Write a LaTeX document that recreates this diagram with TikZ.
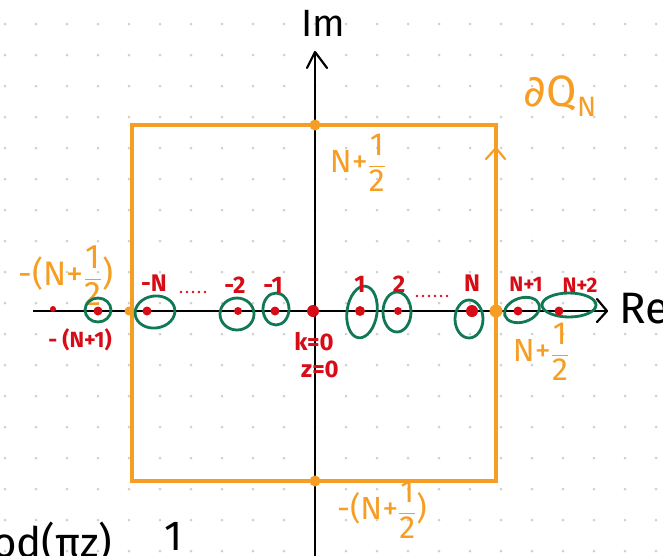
\documentclass[tikz,border=0pt]{standalone}
\usepackage{fontspec}
\usepackage{amsmath}
\setmainfont{Fira Sans}
\newfontfamily\djv{DejaVu Sans}
\usetikzlibrary{arrows.meta}
\definecolor{ora}{RGB}{245,158,35}
\definecolor{rd}{RGB}{214,12,22}
\definecolor{gr}{RGB}{16,120,82}
\definecolor{gridc}{RGB}{208,208,208}
\newcommand{\hf}{$\dfrac{\text{1}}{\text{2}}$}
\begin{document}
\begin{tikzpicture}[x=1pt,y=-1pt,
  rdot/.style={circle,fill=rd,inner sep=0pt,minimum size=#1},
  rdot/.default=9pt,
  odot/.style={circle,fill=ora,inner sep=0pt,minimum size=11pt},
  gring/.style={draw=gr,line width=2.8pt},
  rlab/.style={text=rd,inner sep=0pt,font=\fontsize{24}{24}\selectfont\bfseries},
  olab/.style={text=ora,inner sep=0pt,font=\fontsize{32}{34}\selectfont},
  blab/.style={inner sep=0pt,font=\fontsize{38}{38}\selectfont},
  axis/.style={line width=1.8pt,black},
  barb/.style={line width=2.2pt,line cap=round,line join=round}]
\useasboundingbox (0,0) rectangle (663,555);
\begin{scope}
\clip (0,0) rectangle (663,555);
% dot grid
\foreach \i in {0,...,21}{\foreach \j in {0,...,17}{
  \fill[gridc] ({5+31*\i},{24+31*\j}) circle (1.5);}}
% axes
\coordinate (xs) at (33,311);
\coordinate (xe) at (607,311);
\coordinate (ys) at (315,560);
\coordinate (ye) at (315,52);
\draw[axis] (xs) -- (xe);
\draw[axis] (ys) -- (ye);
\draw[barb] (597,299) -- (xe) -- (597,322);
\draw[barb] (307,68) -- (ye) -- (327,68);
\node[blab] (im) at (323,23) {Im};
\node[blab,font=\fontsize{44}{44}\selectfont,anchor=west] (re) at (619,309) {Re};
% contour
\draw[ora,line width=3.4pt] (132,125) rectangle (496,481);
\draw[ora,line width=2.2pt,line cap=round,line join=round] (486,159) -- (496,148) -- (505,159);
\node[odot] (ot) at (315,125) {};
\node[odot] (ob) at (315,481) {};
\node[odot,minimum size=9pt] (ol) at (129,311) {};
\node[odot,minimum size=13pt] (or) at (496,311) {};
\node[olab,font=\fontsize{44}{44}\selectfont] (dq) at (560,96) {{\djv ∂}Q\raisebox{-10pt}{\fontsize{28}{28}\selectfont N}};
\node[olab] (lt) at (358,163) {N+\hf};
\node[olab] (lb) at (382,510) {-(N+\hf)};
\node[olab] (lr) at (541,352) {N+\hf};
\node[olab,font=\fontsize{34}{36}\selectfont] (ll) at (66,276) {-(N+\hf)};
% green circles
\draw[gring] (98,310) ellipse [x radius=13, y radius=12];
\draw[gring,rotate around={8:(155,312)}] (155,312) ellipse [x radius=20, y radius=16];
\draw[gring] (237,314) ellipse [x radius=17, y radius=16];
\draw[gring] (276,309) ellipse [x radius=13, y radius=16];
\draw[gring,rotate around={-8:(362,312)}] (362,312) ellipse [x radius=15, y radius=26];
\draw[gring] (397,312) ellipse [x radius=14, y radius=20];
\draw[gring] (469,319) ellipse [x radius=14, y radius=19];
\draw[gring,rotate around={18:(522,310)}] (522,310) ellipse [x radius=18, y radius=12];
\draw[gring] (569,305) ellipse [x radius=27, y radius=12];
% red poles
\node[rdot=6pt] (p0) at (53,309) {};
\node[rdot] (pm) at (98,311) {};
\node[rdot] (pn) at (147,311) {};
\node[rdot=8pt] (p2) at (238,311) {};
\node[rdot] (p1) at (275,311) {};
\node[rdot=12pt] (z0) at (313,311) {};
\node[rdot=10pt] (q1) at (360,311) {};
\node[rdot=8pt] (q2) at (398,311) {};
\node[rdot=12pt] (qn) at (472,311) {};
\node[rdot] (qn1) at (518,311) {};
\node[rdot] (qn2) at (559,311) {};
% red labels
\node[rlab] (lmN) at (154,283) {-N};
\node[rlab] (lm2) at (235,285) {-2};
\node[rlab] (lm1) at (273,285) {-1};
\node[rlab,font=\fontsize{22}{22}\selectfont\bfseries] (lmN1) at (80,340) {- (N+1)};
\node[rlab] (lk) at (314,342) {k=0};
\node[rlab] (lz) at (320,369) {z=0};
\node[rlab] (l1) at (360,284) {1};
\node[rlab] (l2) at (399,284) {2};
\node[rlab] (lN) at (472,283) {N};
\node[rlab,font=\fontsize{21}{21}\selectfont\bfseries] (lN1) at (526,284) {N+1};
\node[rlab,font=\fontsize{21}{21}\selectfont\bfseries] (lN2) at (580,285) {N+2};
\foreach \x in {181,187,193,199,205}{\fill[rd] (\x,292) circle (1.4);}
\foreach \x in {417,423,429,435,441,447}{\fill[rd] (\x,296) circle (1.4);}
% cut-off formula at the bottom
\node[blab,anchor=north west,font=\fontsize{42}{42}\selectfont] (fa) at (-8,522) {od(πz)};
\node[blab,anchor=north west,font=\fontsize{42}{42}\selectfont] (fb) at (164,522) {1};
\end{scope}
\end{tikzpicture}
\end{document}
